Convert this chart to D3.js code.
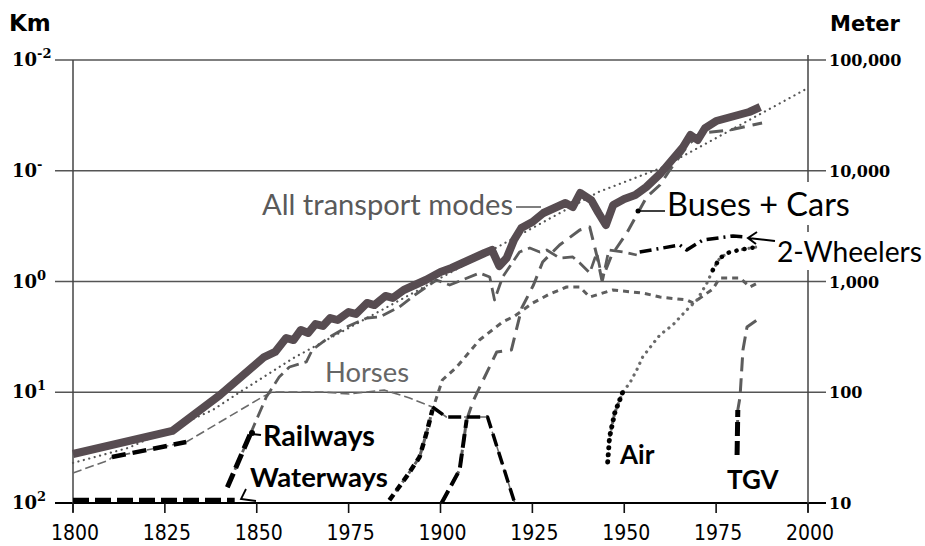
<!DOCTYPE html>
<html>
<head>
<meta charset="utf-8">
<script src="https://cdn.jsdelivr.net/npm/d3@7"></script>
<style>
  body { margin: 0; background: #fff; }
  svg { display: block; }
</style>
</head>
<body>
<svg width="925" height="546"></svg>
<script>
// values are metres per capita and day (right axis)
const xTickYears = [1800, 1825, 1850, 1875, 1900, 1925, 1950, 1975, 2000]
const xTickLabels = ['1800', '1825', '1850', '1975', '1900', '1925', '1950', '1975', '2000']
const yTickValues = [10, 100, 1000, 10000, 100000]
const rightTickLabels = ['10', '100', '1,000', '10,000', '100,000']
const leftTickExps = ['2', '1', '0', '-', '-2']

const allModes = [[1800, 27.7], [1827, 44.7], [1840, 94.5], [1852, 208], [1855, 231], [1858, 309], [1860, 296],
  [1862, 365], [1864, 343], [1866, 413], [1868, 397], [1870, 468], [1872, 449], [1875, 530], [1877, 509],
  [1880, 640], [1882, 613], [1885, 740], [1887, 710], [1890, 838], [1893, 930], [1896, 1032], [1898, 1121],
  [1900, 1218], [1903, 1324], [1906, 1469], [1909, 1630], [1912, 1809], [1914, 1925], [1916, 1380],
  [1918, 1630], [1920, 2370], [1922, 3042], [1925, 3445], [1928, 4155], [1931, 4610], [1934, 5115],
  [1936, 4707], [1938, 6297], [1941, 5443], [1943, 4155], [1945, 3237], [1947, 4907], [1950, 5556],
  [1953, 6040], [1956, 7134], [1960, 9543], [1963, 12510], [1966, 16390], [1968, 21030], [1970, 18960],
  [1972, 24320], [1975, 28130], [1978, 29940], [1981, 31870], [1984, 33930], [1987, 37640]]

const trend = [[1800, 23], [1815, 31.4], [1826, 45.6], [1838, 69.1], [1845, 98.4], [1860, 204], [1880, 468],
  [1900, 1076], [1920, 2470], [1930, 3745], [1943, 6430], [1960, 10590], [1980, 24320], [2000, 55870]]

const horses = [[1800, 18.7], [1809.8, 24.4], [1810.6, 26], [1830.8, 35.5], [1851.5, 90.6], [1854.2, 100.5],
  [1861.6, 100.5], [1867.8, 100.5], [1875.2, 96.4], [1879.8, 100.5], [1884.7, 104.8], [1891.6, 88.7],
  [1897.8, 73.6], [1901.6, 59.8], [1907.9, 59.8], [1912.8, 59.8], [1920.2, 10]]

const railways = [[1842, 13.9], [1848.5, 43.8], [1852.6, 90.6], [1856.1, 137], [1858.9, 169], [1863.5, 188],
  [1865.1, 241], [1869.8, 315], [1875, 397], [1880, 468], [1883.4, 478], [1888.8, 589], [1893, 755],
  [1898.9, 1032], [1902.5, 930], [1910.6, 1193], [1913.4, 1098], [1914.7, 681], [1916.9, 1098],
  [1921.5, 1847], [1924.3, 2006], [1927, 1847], [1928.9, 1925], [1932.4, 1630], [1936, 1665],
  [1937.9, 1469], [1940.6, 1193], [1942.5, 1809], [1944.1, 1032], [1945.8, 1925], [1949.6, 1847],
  [1953.4, 1735]]

const waterways = [[1800, 10.6], [1844, 10.6]]

const busesCars = [[1900.3, 10], [1905.2, 19.9], [1907.1, 56.2], [1909, 85.1], [1915.3, 231], [1919.3, 241],
  [1922.1, 576], [1925.3, 930], [1927.8, 1500], [1932.4, 2136], [1937.9, 2917], [1940.6, 3105],
  [1942.5, 1735], [1943.9, 1032], [1946.6, 1735], [1950.7, 2741], [1956.1, 5794], [1959.7, 7435],
  [1962.4, 10160], [1967.8, 17810], [1971.4, 21930], [1978.7, 23330], [1987.5, 26990]]

const twoWheelers = [[1954.2, 1847], [1965.1, 2136], [1967, 1925], [1971.4, 2370], [1979.6, 2575], [1983.4, 2522]]

const bikes = [[1886.1, 10.6], [1890.7, 17.2], [1894.3, 26], [1896.2, 42.9], [1897.8, 69.1], [1900.5, 129],
  [1904.4, 169], [1910.6, 296], [1916.9, 431], [1920.2, 488], [1925.1, 640], [1929.7, 771], [1934.3, 892],
  [1937.9, 892], [1940.6, 724], [1946.9, 838], [1955, 787], [1959.7, 724], [1967, 681], [1968.7, 640],
  [1971.4, 740], [1974.1, 855], [1976, 1076], [1981.5, 1076], [1984.2, 892], [1986.9, 990]]

const air = [[1945.5, 23.5], [1946, 39.4], [1947.4, 64.9], [1949.6, 100.5], [1951.5, 121], [1953.4, 159],
  [1955, 208], [1956.9, 251], [1959.7, 329], [1963.2, 405], [1967, 553], [1969.8, 681], [1972.5, 970],
  [1974.1, 1270], [1976, 1630], [1978.7, 1847], [1982.8, 1966], [1986.1, 2049]]

const tgv = [[1980.7, 27.1], [1980.9, 69.1], [1981.5, 90.6], [1982.3, 241], [1983.4, 388], [1986.1, 449]]

const svg = d3.select('svg')
const x = d3.scaleLinear().domain([1800, 2000]).range([73, 808])
const y = d3.scaleLog().domain([10, 100000]).range([503, 60])
const line = d3.line().x(d => x(d[0])).y(d => y(d[1]))

// grid
svg.append('g').selectAll('line')
  .data(yTickValues)
  .enter().append('line')
  .attr('x1', 55).attr('x2', 826)
  .attr('y1', d => y(d)).attr('y2', d => y(d))
  .attr('stroke', d => d === 10 ? '#000' : '#555')
  .attr('stroke-width', d => d === 10 ? 2 : 1.3)

svg.append('line').attr('x1', x(1800)).attr('x2', x(1800)).attr('y1', y(100000)).attr('y2', 512)
  .attr('stroke', '#444').attr('stroke-width', 1.5)
svg.append('line').attr('x1', x(2000)).attr('x2', x(2000)).attr('y1', y(100000) - 5).attr('y2', 512)
  .attr('stroke', '#444').attr('stroke-width', 1.5)

svg.append('g').selectAll('line')
  .data(xTickYears)
  .enter().append('line')
  .attr('x1', d => x(d)).attr('x2', d => x(d))
  .attr('y1', y(10)).attr('y2', y(10) + 10)
  .attr('stroke', '#111').attr('stroke-width', 1.6)

svg.append('g').selectAll('text')
  .data(xTickLabels)
  .enter().append('text')
  .attr('x', (d, i) => x(xTickYears[i]) + 2)
  .attr('y', 540)
  .attr('text-anchor', 'middle')
  .style('font-family', '"Liberation Sans Narrow", "DejaVu Sans Condensed", sans-serif')
  .style('font-size', '21px')
  .text(d => d)

svg.append('g').selectAll('text')
  .data(rightTickLabels)
  .enter().append('text')
  .attr('x', 829)
  .attr('y', (d, i) => y(yTickValues[i]) + 6)
  .style('font-family', '"DejaVu Serif", serif')
  .style('font-weight', 'bold')
  .style('font-size', '16px')
  .text(d => d)

const left = svg.append('g').selectAll('text')
  .data(leftTickExps)
  .enter().append('text')
  .attr('x', 12)
  .attr('y', (d, i) => y(yTickValues[i]) + 6)
  .style('font-family', '"DejaVu Serif", serif')
  .style('font-weight', 'bold')
  .style('font-size', '18px')
left.append('tspan').text('10')
left.append('tspan').attr('dy', -8).style('font-size', '13px').text(d => d)

svg.append('text').attr('x', 9).attr('y', 31)
  .style('font-family', '"DejaVu Sans", sans-serif').style('font-weight', 'bold').style('font-size', '23px')
  .text('Km')
svg.append('text').attr('x', 830).attr('y', 31)
  .style('font-family', '"DejaVu Sans", sans-serif').style('font-weight', 'bold').style('font-size', '21px')
  .text('Meter')

// series
const styles = [
  { data: horses, color: '#6a6a6a', width: 1.6, dash: '9,4' },
  { data: railways, color: '#5c5c5c', width: 2.8, dash: '13,6' },
  { data: bikes, color: '#5e5e5e', width: 3, dash: '6,5' },
  { data: busesCars, color: '#5c5c5c', width: 3, dash: '14,8' },
  { data: air, color: '#6a6a6a', width: 3.2, dash: '0.1,6.5' },
  { data: tgv, color: '#5c5c5c', width: 3, dash: '14,7' },
  { data: twoWheelers, color: '#000', width: 3.5, dash: '12,5,2,5' },
  { data: waterways, color: '#000', width: 5, dash: '16,6' },
  { data: trend, color: '#555', width: 2.2, dash: '0.1,5.5' },
  { data: horses, from: 1810.6, to: 1830.8, color: '#000', width: 4.5, dash: '14,7' },
  { data: horses, from: 1897.8, to: 1920.2, color: '#000', width: 3.5, dash: '13,6' },
  { data: railways, from: 1842, to: 1848.5, color: '#000', width: 5, dash: '15,6' },
  { data: bikes, from: 1886.1, to: 1897.8, color: '#000', width: 4.5, dash: '7,5' },
  { data: busesCars, from: 1900.3, to: 1907.1, color: '#000', width: 4, dash: '14,6' },
  { data: air, from: 1945.5, to: 1949.6, color: '#000', width: 5, dash: '0.1,7' },
  { data: air, from: 1974.1, to: 1986.1, color: '#000', width: 4.5, dash: '0.1,8' },
  { data: tgv, from: 1980.7, to: 1980.9, color: '#000', width: 5, dash: '14,5' },
  { data: allModes, color: '#574c51', width: 8, dash: null }
]

svg.append('g').selectAll('path')
  .data(styles)
  .enter().append('path')
  .attr('d', s => line(s.from === undefined ? s.data : s.data.filter(d => d[0] >= s.from && d[0] <= s.to)))
  .attr('fill', 'none')
  .attr('stroke', s => s.color)
  .attr('stroke-width', s => s.width)
  .attr('stroke-dasharray', s => s.dash)
  .attr('stroke-linecap', s => s.dash && s.dash.startsWith('0.1') ? 'round' : 'butt')
  .attr('stroke-linejoin', 'round')

// annotations (w = width to fit, size = fixed font size)
const labels = [
  { text: 'All transport modes', x: 262, y: 215, w: 251, fill: '#5a5a5a', weight: 400 },
  { text: 'Horses', x: 325, y: 382, w: 84, fill: '#666', weight: 400 },
  { text: 'Buses + Cars', x: 667, y: 216, w: 183, fill: '#000', weight: 400, box: true },
  { text: '2-Wheelers', x: 777, y: 262, w: 145, fill: '#000', weight: 400, box: true },
  { text: 'Railways', x: 263, y: 446, w: 112, fill: '#000', weight: 700 },
  { text: 'Waterways', x: 250, y: 487, w: 138, fill: '#000', weight: 700 },
  { text: 'Air', x: 620, y: 464, size: 26, fill: '#000', weight: 700 },
  { text: 'TGV', x: 727, y: 489, size: 26, fill: '#000', weight: 700 }
]

const lab = svg.append('g')
labels.forEach(l => {
  const t = lab.append('text')
    .attr('x', l.x).attr('y', l.y)
    .attr('fill', l.fill)
    .style('font-family', 'Lato, "Open Sans", sans-serif')
    .style('font-weight', l.weight)
    .style('font-size', '100px')
    .text(l.text)
  if (l.size) {
    t.style('font-size', l.size + 'px')
  } else {
    const len = t.node().getComputedTextLength()
    t.style('font-size', (100 * l.w / len) + 'px')
  }
  if (l.box) {
    const b = t.node().getBBox()
    lab.insert('rect', 'text').attr('x', b.x - 4).attr('y', b.y - 2)
      .attr('width', b.width + 8).attr('height', b.height + 4).attr('fill', '#fff')
  }
})

svg.append('line').attr('x1', 516).attr('x2', 541).attr('y1', 207).attr('y2', 207)
  .attr('stroke', '#555').attr('stroke-width', 1.5)
svg.append('circle').attr('cx', 638).attr('cy', 211).attr('r', 2.5).attr('fill', '#000')
svg.append('line').attr('x1', 638).attr('x2', 665).attr('y1', 211).attr('y2', 211)
  .attr('stroke', '#000').attr('stroke-width', 1.5)
svg.append('path').attr('d', 'M775,241 L748,238 M757,232 L748,238 L756,244')
  .attr('fill', 'none').attr('stroke', '#000').attr('stroke-width', 2)
svg.append('circle').attr('cx', 252).attr('cy', 433).attr('r', 3).attr('fill', '#000')
svg.append('line').attr('x1', 252).attr('x2', 261).attr('y1', 434).attr('y2', 435)
  .attr('stroke', '#000').attr('stroke-width', 2)
svg.append('path').attr('d', 'M246,489 L241,499 L256,501')
  .attr('fill', 'none').attr('stroke', '#000').attr('stroke-width', 1.8)
</script>
</body>
</html>
